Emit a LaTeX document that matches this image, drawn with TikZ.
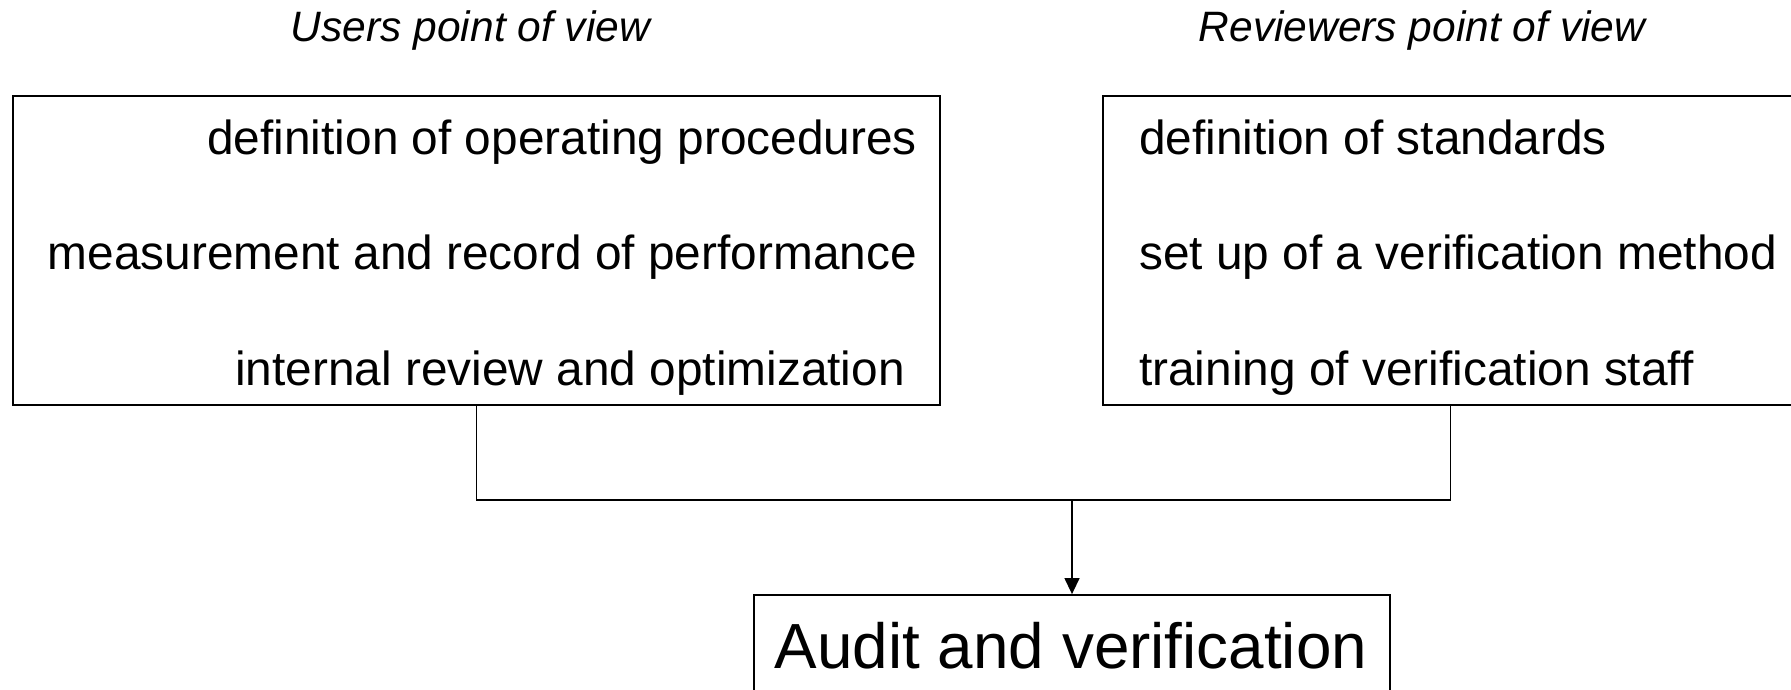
\documentclass[tikz,border=0pt]{standalone}
\usepackage{fontspec}
\setmainfont{Liberation Sans}
\usetikzlibrary{arrows.meta,calc}

\tikzset{
  frame/.style={draw=black, line width=1.8pt, fill=none, inner sep=0pt},
  item/.style={inner sep=0pt, font=\fontsize{47.8}{57}\selectfont},
  heading/.style={inner sep=0pt, anchor=base, font=\fontsize{42.5}{50}\selectfont\itshape},
  title/.style={inner sep=0pt, anchor=base, font=\fontsize{63.8}{76}\selectfont},
  link/.style={draw=black, line width=1.4pt},
  arrowlink/.style={link, -{Triangle[length=16pt,width=15pt]}},
}

\begin{document}
\begin{tikzpicture}[x=1pt, y=-1pt]
  \useasboundingbox[fill=white] (0,0) rectangle (1791,690);

  % column headings
  \node[heading] (hUsers) at (470.5,42) {Users point of view};
  \node[heading] (hRev)   at (1422,42)  {Reviewers point of view};

  % the two boxes
  \node[frame, minimum width=927pt, minimum height=309pt] (lbox) at (476.5,250.5) {};
  \node[frame, minimum width=695pt, minimum height=309pt] (rbox) at (1450.5,250.5) {};

  % users side, right aligned
  \node[item, anchor=base east] (u1) at (917,154) {definition of operating procedures};
  \node[item, anchor=base east] (u2) at (917,269) {measurement and record of performance};
  \node[item, anchor=base east] (u3) at (905,385) {internal review and optimization};

  % reviewers side, left aligned
  \node[item, anchor=base west] (r1) at (1139,154) {definition of standards};
  \node[item, anchor=base west] (r2) at (1139,269) {set up of a verification method};
  \node[item, anchor=base west] (r3) at (1139,385) {training of verification staff};

  % result box
  \node[frame, minimum width=636pt, minimum height=130pt] (audit) at (1072,660) {};
  \node[title] (auditText) at (1071,668) {Audit and verification};

  % joining lines
  \coordinate (bus) at ($(lbox.south)+(0,94)$);
  \draw[link] (lbox.south) -- (bus) -| (rbox.south);
  \draw[arrowlink] (audit.north |- bus) -- (audit.north);
\end{tikzpicture}
\end{document}
